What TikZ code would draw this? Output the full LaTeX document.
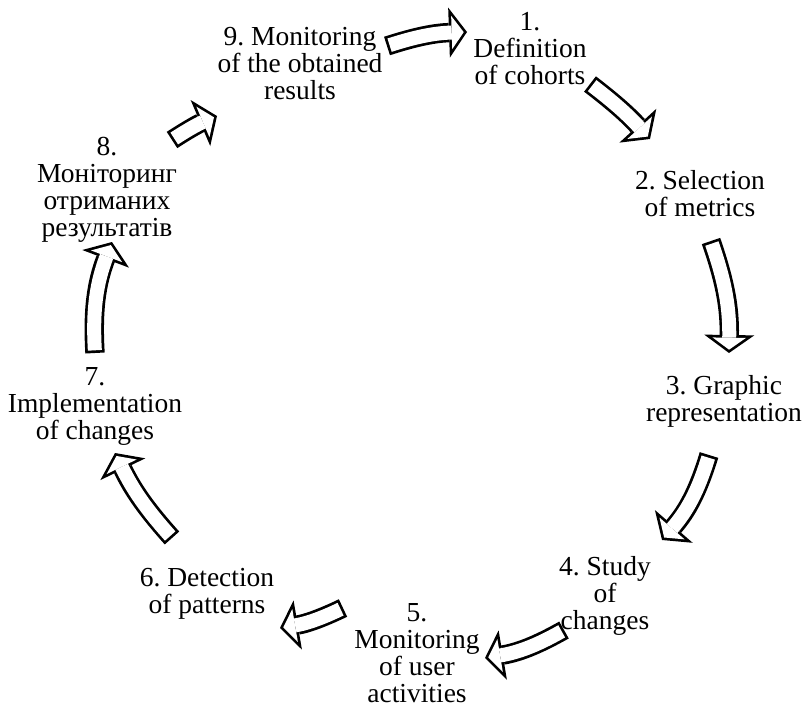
\documentclass[tikz,border=0pt]{standalone}
\usepackage{fontspec}
\setmainfont{Liberation Serif}
\usetikzlibrary{arrows.meta}
\frenchspacing
\begin{document}
\begin{tikzpicture}[x=1pt,y=-1pt,
  lbl/.style={align=center, font=\fontsize{27.5}{27}\selectfont, inner sep=0pt},
  barrow/.style={line width=14pt, draw=white, shorten <=2.7pt, shorten >=3.3pt,
    -{Triangle[length=12pt,width=33.3pt,line width=0pt,color=white]},
    preaction={draw=black, line width=19.4pt, shorten <=0pt, shorten >=0pt,
      -{Triangle[length=18pt,width=50pt,line width=0pt,color=black]}}}]
\useasboundingbox (0,0) rectangle (803,720);
% labels
\node[lbl] (n1) at (530,49) {1.\\Definition\\of cohorts};
\node[lbl] (n2) at (700,194) {2. Selection\\of metrics};
\node[lbl] (n3) at (724,401) {3. Graphic\\representation};
\node[lbl] (n4) at (605,596) {4. Study\\of\\changes};
\node[lbl] (n5) at (417,653) {5.\\Monitoring\\of user\\activities};
\node[lbl] (n6) at (207,594) {6. Detection\\of patterns};
\node[lbl] (n7) at (95,406) {7.\\Implementation\\of changes};
\node[lbl] (n8) at (107,190) {8.\\Моніторинг\\отриманих\\результатів};
\node[lbl] (n9) at (300,64) {9. Monitoring\\of the obtained\\results};
% arrow ends
\coordinate (a1s) at (387,46);  \coordinate (a1e) at (467,32);
\coordinate (a2s) at (590,84);  \coordinate (a2e) at (650,139);
\coordinate (a3s) at (711,241); \coordinate (a3e) at (729,353);
\coordinate (a4s) at (709,455); \coordinate (a4e) at (662,540);
\coordinate (a5s) at (564,630); \coordinate (a5e) at (485,658);
\coordinate (a6s) at (343,608); \coordinate (a6e) at (280,628);
\coordinate (a7s) at (172,538); \coordinate (a7e) at (115,453);
\coordinate (a8s) at (95,353);  \coordinate (a8e) at (112,242);
\coordinate (a9s) at (172,140); \coordinate (a9e) at (217,116);
% arrows
\draw[barrow] (a1s) to[bend left=8] (a1e);
\draw[barrow] (a2s) to[bend left=5] (a2e);
\draw[barrow] (a3s) to[bend left=10] (a3e);
\draw[barrow] (a4s) to[bend left=12] (a4e);
\draw[barrow] (a5s) to[bend left=10] (a5e);
\draw[barrow] (a6s) to[bend left=8] (a6e);
\draw[barrow] (a7s) to[bend left=8] (a7e);
\draw[barrow] (a8s) to[bend left=12] (a8e);
\draw[barrow] (a9s) to[bend left=5] (a9e);
\end{tikzpicture}
\end{document}
